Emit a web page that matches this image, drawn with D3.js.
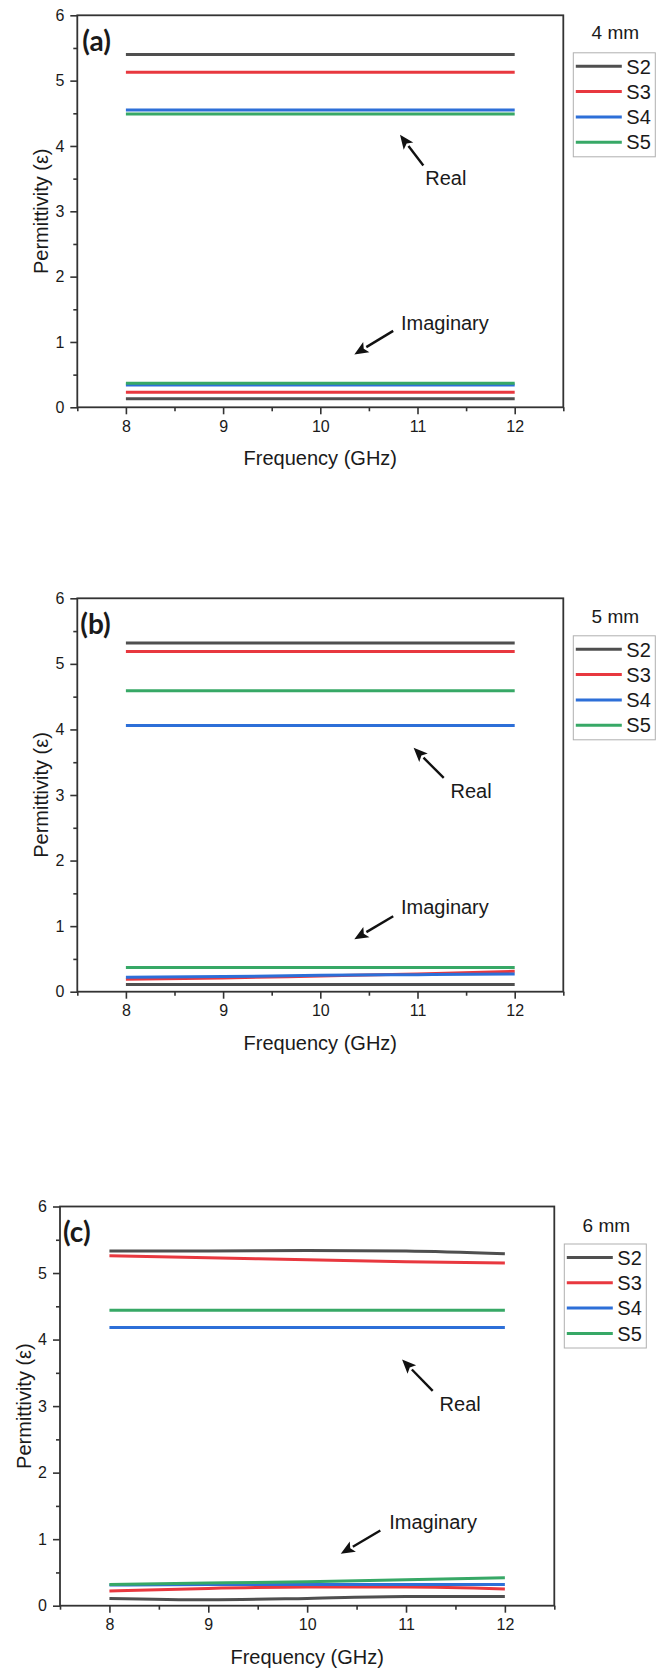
<!DOCTYPE html>
<html><head><meta charset="utf-8">
<script src="https://cdn.jsdelivr.net/npm/d3@7"></script>
<style>
html,body{margin:0;padding:0;background:#fff;}
svg{display:block;}
text{font-family:"Liberation Sans",Arial,sans-serif;fill:#1a1a1a;}
</style></head>
<body>
<script>
// ---------- data ----------
const freq = [8, 9, 10, 11, 12];
const seriesNames = ["S2", "S3", "S4", "S5"];
const seriesColors = ["#4f4f4f", "#e8383f", "#2d6fd8", "#37a866"];
const panelLabels = ["(a)", "(b)", "(c)"];
const thicknessLabels = ["4 mm", "5 mm", "6 mm"];
const xTicks = [8, 9, 10, 11, 12];
const xMinorTicks = [7.5, 8.5, 9.5, 10.5, 11.5, 12.5];
const yTicks = [0, 1, 2, 3, 4, 5, 6];
const yMinorTicks = [0.5, 1.5, 2.5, 3.5, 4.5, 5.5];
const xTitle = "Frequency (GHz)";
const yTitle = "Permittivity (\u03b5)";
const realLabel = "Real";
const imagLabel = "Imaginary";

// panel (a) 4 mm  — order S2, S3, S4, S5
const realA = [
  [5.40, 5.40, 5.40, 5.40, 5.40],
  [5.13, 5.13, 5.13, 5.13, 5.13],
  [4.55, 4.55, 4.55, 4.55, 4.55],
  [4.49, 4.49, 4.49, 4.49, 4.49]
];
const imagA = [
  [0.13, 0.13, 0.13, 0.13, 0.13],
  [0.23, 0.23, 0.23, 0.23, 0.23],
  [0.34, 0.34, 0.34, 0.34, 0.34],
  [0.37, 0.37, 0.37, 0.37, 0.37]
];
// panel (b) 5 mm
const realB = [
  [5.32, 5.32, 5.32, 5.32, 5.32],
  [5.19, 5.19, 5.19, 5.19, 5.19],
  [4.06, 4.06, 4.06, 4.06, 4.06],
  [4.59, 4.59, 4.59, 4.59, 4.59]
];
const imagB = [
  [0.11, 0.11, 0.11, 0.11, 0.11],
  [0.19, 0.21, 0.24, 0.27, 0.31],
  [0.22, 0.23, 0.25, 0.26, 0.27],
  [0.37, 0.37, 0.37, 0.37, 0.37]
];
// panel (c) 6 mm
const realC = [
  [5.33, 5.33, 5.34, 5.33, 5.29],
  [5.26, 5.23, 5.20, 5.17, 5.15],
  [4.18, 4.18, 4.18, 4.18, 4.18],
  [4.44, 4.44, 4.44, 4.44, 4.44]
];
const imagC = [
  [0.11, 0.09, 0.11, 0.14, 0.14],
  [0.22, 0.26, 0.28, 0.28, 0.25],
  [0.31, 0.32, 0.32, 0.32, 0.32],
  [0.32, 0.34, 0.36, 0.39, 0.42]
];

// ---------- layout ----------
const W = 668, H = 1671;
const panels = [
  { real: realA, imag: imagA, box: {l: 77.3, t: 15.3, r: 563.3, b: 407.3},
    realArrow: {tail: [11.06, 3.70], tip: [10.82, 4.17], text: [11.08, 3.40]},
    imagArrow: {tail: [10.75, 1.17], tip: [10.35, 0.81], text: [10.83, 1.19]},
    labelDx: 5, titleDy: 17.5 },
  { real: realB, imag: imagB, box: {l: 77.3, t: 598.3, r: 563.3, b: 991.7},
    realArrow: {tail: [11.27, 3.26], tip: [10.96, 3.72], text: [11.34, 2.95]},
    imagArrow: {tail: [10.75, 1.15], tip: [10.35, 0.80], text: [10.83, 1.18]},
    labelDx: 3, titleDy: 18 },
  { real: realC, imag: imagC, box: {l: 60, t: 1206.5, r: 554.3, b: 1605.7},
    realArrow: {tail: [11.27, 3.23], tip: [10.96, 3.70], text: [11.34, 2.93]},
    imagArrow: {tail: [10.74, 1.13], tip: [10.34, 0.78], text: [10.83, 1.155]},
    labelDx: 3, titleDy: 19 }
];

const svg = d3.select("body").append("svg").attr("width", W).attr("height", H);
svg.append("rect").attr("width", W).attr("height", H).attr("fill", "#fff");

panels.forEach((p, pi) => {
  const {l, t, r, b} = p.box;
  const x = d3.scaleLinear().domain([7.5, 12.5]).range([l, r]);
  const y = d3.scaleLinear().domain([0, 6]).range([b, t]);
  const g = svg.append("g");

  // frame
  g.append("rect").attr("x", l).attr("y", t).attr("width", r - l).attr("height", b - t)
    .attr("fill", "none").attr("stroke", "#333").attr("stroke-width", 1.8);

  // axes
  const fmt = d3.format("d");
  const xa = g.append("g").attr("transform", `translate(0,${b})`)
    .call(d3.axisBottom(x).tickValues(xTicks).tickFormat(fmt).tickSize(7).tickPadding(6).tickSizeOuter(0));
  const xm = g.append("g").attr("transform", `translate(0,${b})`)
    .call(d3.axisBottom(x).tickValues(xMinorTicks).tickSize(4).tickFormat("").tickSizeOuter(0));
  const ya = g.append("g").attr("transform", `translate(${l},0)`)
    .call(d3.axisLeft(y).tickValues(yTicks).tickFormat(fmt).tickSize(7).tickPadding(6).tickSizeOuter(0));
  const ym = g.append("g").attr("transform", `translate(${l},0)`)
    .call(d3.axisLeft(y).tickValues(yMinorTicks).tickSize(4).tickFormat("").tickSizeOuter(0));
  [xa, xm, ya, ym].forEach(a => {
    a.attr("font-size", null).attr("font-family", null);
    a.select(".domain").remove();
    a.selectAll("line").attr("stroke", "#333").attr("stroke-width", 1.6);
    a.selectAll("text").style("font-size", "16px").attr("fill", "#1a1a1a");
  });

  // titles
  g.append("text").attr("x", x(10)).attr("y", b + 51).attr("dy", "0.35em")
    .attr("text-anchor", "middle").style("font-size", "20px").text(xTitle);
  g.append("text").attr("transform", `translate(${l - 36.5},${(t + b) / 2}) rotate(-90)`)
    .attr("dy", "0.35em").attr("text-anchor", "middle").style("font-size", "20px").text(yTitle);

  // panel label
  g.append("text").attr("x", l + p.labelDx).attr("y", t + 26).attr("dy", "0.35em")
    .style("font-family", "Lato, 'Open Sans', sans-serif").attr("font-weight", "bold")
    .style("font-size", "28px").text(panelLabels[pi]);

  // lines
  const line = d3.line().x((d, i) => x(freq[i])).y(d => y(d)).curve(d3.curveMonotoneX);
  [p.imag, p.real].forEach(group => {
    group.forEach((vals, si) => {
      g.append("path").datum(vals).attr("d", line).attr("fill", "none")
        .attr("stroke", seriesColors[si]).attr("stroke-width", 3).attr("stroke-linecap", "butt");
    });
  });

  // annotations
  function arrow(a, label) {
    const [x1, y1] = [x(a.tail[0]), y(a.tail[1])];
    const [x2, y2] = [x(a.tip[0]), y(a.tip[1])];
    const ang = Math.atan2(y2 - y1, x2 - x1);
    const hl = 14, hw = 6;
    const bx = x2 - hl * Math.cos(ang), by = y2 - hl * Math.sin(ang);
    g.append("line").attr("x1", x1).attr("y1", y1).attr("x2", bx).attr("y2", by)
      .attr("stroke", "#111").attr("stroke-width", 2.4);
    const px = -Math.sin(ang), py = Math.cos(ang);
    g.append("path").attr("d",
      `M${x2},${y2}L${bx + hw * px},${by + hw * py}L${bx + 3 * Math.cos(ang)},${by + 3 * Math.sin(ang)}L${bx - hw * px},${by - hw * py}Z`)
      .attr("fill", "#111");
    g.append("text").attr("x", x(a.text[0])).attr("y", y(a.text[1]))
      .style("font-size", "20px").text(label);
  }
  arrow(p.realArrow, realLabel);
  arrow(p.imagArrow, imagLabel);

  // legend
  const lx = r + 10, ly = t + 37.5;
  const rowH = 25.3;
  g.append("text").attr("x", r + 52).attr("y", t + p.titleDy).attr("dy", "0.35em")
    .attr("text-anchor", "middle").style("font-size", "19px").text(thicknessLabels[pi]);
  g.append("rect").attr("x", lx).attr("y", ly).attr("width", 82).attr("height", 104)
    .attr("fill", "#fff").attr("stroke", "#b0b0b0").attr("stroke-width", 1);
  seriesNames.forEach((n, si) => {
    const cy = ly + 13.5 + si * rowH;
    g.append("line").attr("x1", lx + 2.5).attr("x2", lx + 48.5).attr("y1", cy).attr("y2", cy)
      .attr("stroke", seriesColors[si]).attr("stroke-width", 3);
    g.append("text").attr("x", lx + 53).attr("y", cy).attr("dy", "0.36em")
      .style("font-size", "20px").text(n);
  });
});
</script>
</body></html>
